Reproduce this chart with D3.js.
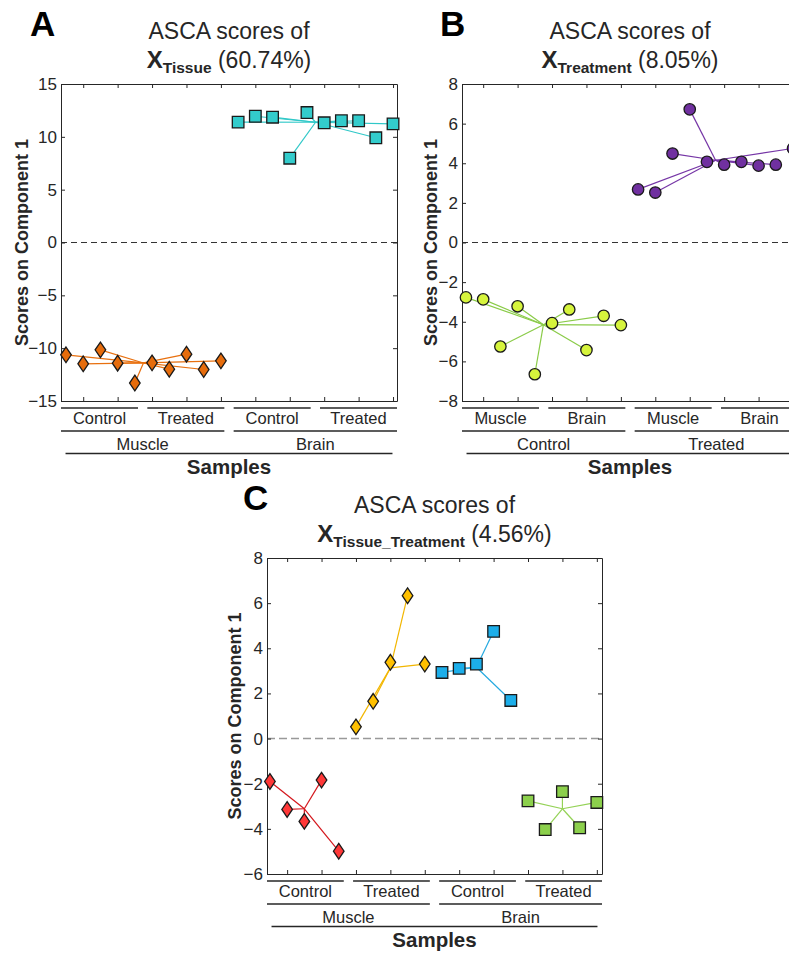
<!DOCTYPE html>
<html>
<head>
<meta charset="utf-8">
<script src="https://cdnjs.cloudflare.com/ajax/libs/d3/7.8.5/d3.min.js"></script>
<style>
  body { margin: 0; background: #fff; }
  svg { font-family: 'Liberation Sans', Arial, Helvetica, sans-serif; }
  text { fill: #262626; }
</style>
</head>
<body>
<svg id="chart" width="789" height="954"></svg>
<script>
// samples 1..20 on the x axis
let samples = d3.range(1, 21)
let xTicks = [2, 4, 6, 8, 10, 12, 14, 16, 18, 20]

// A: tissue effect
let tissueScores = [-10.63, -11.48, -10.16, -11.42, -13.30, -11.39, -11.99, -10.57, -12.02, -11.20,
  11.39, 11.95, 11.86, 7.98, 12.30, 11.33, 11.52, 11.52, 9.91, 11.23]
let tissueSplit = [10, 10]
let tissueCenters = [-11.40, 11.38]
let tissueTicks = [-15, -10, -5, 0, 5, 10, 15]
let tissueRow1 = ['Control', 'Treated', 'Control', 'Treated']
let tissueRow2 = ['Muscle', 'Brain']

// B: treatment effect
let treatmentScores = [-2.77, -2.87, -5.25, -3.22, -6.65, -4.07, -3.38, -5.43, -3.70, -4.17,
  2.68, 2.52, 4.49, 6.72, 4.07, 3.93, 4.07, 3.88, 3.93, 4.75]
let treatmentSplit = [10, 10]
let treatmentCenters = [-4.15, 4.15]
let treatmentTicks = [-8, -6, -4, -2, 0, 2, 4, 6, 8]
let treatmentRow1 = ['Muscle', 'Brain', 'Muscle', 'Brain']
let treatmentRow2 = ['Control', 'Treated']

// C: interaction
let interactionScores = [-1.90, -3.14, -3.67, -1.84, -4.99, 0.52, 1.65, 3.38, 6.33, 3.30,
  2.93, 3.11, 3.30, 4.75, 1.69, -2.76, -4.03, -2.35, -3.95, -2.83]
let interactionSplit = [5, 5, 5, 5]
let interactionCenters = [-3.11, 3.13, 3.16, -3.11]
let interactionTicks = [-6, -4, -2, 0, 2, 4, 6, 8]
let interactionRow1 = ['Control', 'Treated', 'Control', 'Treated']
let interactionRow2 = ['Muscle', 'Brain']

let svg = d3.select('#chart')

let panels = [
  {
    letter: 'A', letterX: 30, left: 61, top: 84, width: 336, height: 317, ylabelDx: -32.7,
    xDomain: [0.71, 20.23], scores: tissueScores, split: tissueSplit, centers: tissueCenters,
    ticks: tissueTicks, row1: tissueRow1, row2: tissueRow2, sub: 'Tissue', pct: '(60.74%)',
    marks: [
      { shape: 'diamond', fill: '#e66c0c', line: '#e8700f' },
      { shape: 'square', fill: '#33cccc', line: '#30c8c8' }
    ],
    zero: { stroke: '#333', width: 1, dash: '6,4' }
  },
  {
    letter: 'B', letterX: 440, left: 462, top: 84, width: 336, height: 317, ylabelDx: -25.3,
    xDomain: [0.77, 20.29], scores: treatmentScores, split: treatmentSplit, centers: treatmentCenters,
    ticks: treatmentTicks, row1: treatmentRow1, row2: treatmentRow2, sub: 'Treatment', pct: '(8.05%)',
    marks: [
      { shape: 'circle', fill: '#d6f43c', line: '#8acb48' },
      { shape: 'circle', fill: '#7030a0', line: '#7636a6' }
    ],
    zero: { stroke: '#333', width: 1, dash: '6,4' }
  },
  {
    letter: 'C', letterX: 243, left: 267, top: 558, width: 335, height: 316, ylabelDx: -26.3,
    xDomain: [0.83, 20.30], scores: interactionScores, split: interactionSplit, centers: interactionCenters,
    ticks: interactionTicks, row1: interactionRow1, row2: interactionRow2, sub: 'Tissue_Treatment', pct: '(4.56%)',
    marks: [
      { shape: 'diamond', fill: '#ff3838', line: '#d4161c' },
      { shape: 'diamond', fill: '#ffc000', line: '#f2b600' },
      { shape: 'square', fill: '#1caeea', line: '#25a9e0' },
      { shape: 'square', fill: '#8cd04c', line: '#94d256' }
    ],
    zero: { stroke: '#999', width: 1.5, dash: '8,4' }
  }
]

function drawPanel (p) {
  let g = svg.append('g').attr('transform', 'translate(' + p.left + ',' + p.top + ')')

  let x = d3.scaleLinear().domain(p.xDomain).range([0, p.width])
  let y = d3.scaleLinear().domain(d3.extent(p.ticks)).range([p.height, 0])

  // group of every sample
  let groupOf = []
  p.split.forEach(function (n, gi) { for (let k = 0; k < n; k++) groupOf.push(gi) })
  let pts = samples.map(function (s, i) { return { s: s, v: p.scores[i], g: groupOf[i] } })
  let centers = p.split.map(function (n, gi) {
    return { s: d3.mean(pts.filter(function (d) { return d.g === gi }), function (d) { return d.s }), v: p.centers[gi] }
  })

  // zero line
  g.append('line')
    .attr('x1', 0).attr('x2', p.width)
    .attr('y1', y(0)).attr('y2', y(0))
    .attr('stroke', p.zero.stroke)
    .attr('stroke-width', p.zero.width)
    .attr('stroke-dasharray', p.zero.dash)

  // axes (box with inward ticks)
  function styleAxis (sel) {
    sel.attr('font-family', null).attr('font-size', 17).style('color', '#262626')
    sel.selectAll('line, path').attr('stroke-width', 1)
  }
  g.append('g')
    .call(d3.axisLeft(y).tickValues(p.ticks).tickSize(-4).tickSizeOuter(0).tickPadding(4))
    .call(styleAxis)
  g.append('g')
    .attr('transform', 'translate(' + p.width + ',0)')
    .call(d3.axisRight(y).tickValues(p.ticks).tickSize(-4).tickSizeOuter(0).tickFormat(''))
    .call(styleAxis)
  g.append('g')
    .attr('transform', 'translate(0,' + p.height + ')')
    .call(d3.axisBottom(x).tickValues(xTicks).tickSize(-4).tickSizeOuter(0).tickFormat(''))
    .call(styleAxis)
  g.append('g')
    .call(d3.axisTop(x).tickValues(xTicks).tickSize(-4).tickSizeOuter(0).tickFormat(''))
    .call(styleAxis)

  // spokes to group centre
  g.selectAll('.spoke')
    .data(pts)
    .enter()
    .append('line')
    .attr('class', 'spoke')
    .attr('x1', function (d) { return x(centers[d.g].s) })
    .attr('y1', function (d) { return y(centers[d.g].v) })
    .attr('x2', function (d) { return x(d.s) })
    .attr('y2', function (d) { return y(d.v) })
    .attr('stroke', function (d) { return p.marks[d.g].line })
    .attr('stroke-width', 1.2)

  // markers
  let diamond = 'M0,-7.8L5.3,0L0,7.8L-5.3,0Z'
  let square = 'M-5.8,-5.8H5.8V5.8H-5.8Z'
  g.selectAll('.mark')
    .data(pts)
    .enter()
    .append('path')
    .attr('class', 'mark')
    .attr('transform', function (d) { return 'translate(' + x(d.s) + ',' + y(d.v) + ')' })
    .attr('d', function (d) {
      let shape = p.marks[d.g].shape
      if (shape === 'diamond') return diamond
      if (shape === 'square') return square
      return d3.symbol(d3.symbolCircle, Math.PI * 5.7 * 5.7)()
    })
    .attr('fill', function (d) { return p.marks[d.g].fill })
    .attr('stroke', '#1a1a1a')
    .attr('stroke-width', 1.3)

  // group brackets under the axis
  function bracketRow (labels, yLine, yText) {
    let gap = 9.3
    let band = d3.scaleBand()
      .domain(d3.range(labels.length))
      .range([0, p.width])
      .paddingInner(gap * labels.length / (p.width + gap))
      .paddingOuter(0)
    labels.forEach(function (lab, i) {
      g.append('line')
        .attr('x1', band(i)).attr('x2', band(i) + band.bandwidth())
        .attr('y1', yLine).attr('y2', yLine)
        .attr('stroke', '#262626').attr('stroke-width', 1.3)
      if (yText != null) {
        g.append('text')
          .attr('x', band(i) + band.bandwidth() / 2)
          .attr('y', yText)
          .attr('text-anchor', 'middle')
          .attr('font-size', 16.5)
          .text(lab)
      }
    })
  }
  let by1 = p.height + 7
  let by2 = by1 + 23
  let by3 = by2 + 22.5
  bracketRow(p.row1, by1, by1 + 16)
  bracketRow(p.row2, by2, by2 + 19)
  bracketRow(['Samples'], by3, null)

  g.append('text')
    .attr('x', p.width / 2)
    .attr('y', by3 + 20)
    .attr('text-anchor', 'middle')
    .attr('font-size', 20.5)
    .attr('font-weight', 'bold')
    .text('Samples')

  // y label
  g.append('text')
    .attr('transform', 'translate(' + p.ylabelDx + ',' + (p.height / 2) + ') rotate(-90)')
    .attr('text-anchor', 'middle')
    .attr('font-size', 18)
    .attr('font-weight', 'bold')
    .text('Scores on Component 1')

  // title
  g.append('text')
    .attr('x', p.width / 2)
    .attr('y', -44.7)
    .attr('text-anchor', 'middle')
    .attr('font-size', 23)
    .text('ASCA scores of')

  let t2 = g.append('text')
    .attr('x', p.width / 2)
    .attr('y', -16)
    .attr('text-anchor', 'middle')
    .attr('font-size', 23)
    .style('white-space', 'pre')
  t2.append('tspan').attr('font-weight', 'bold').attr('font-size', 24).text('X')
  t2.append('tspan').attr('font-weight', 'bold').attr('font-size', 15.5).attr('dy', 4.8).text(p.sub)
  t2.append('tspan').attr('dy', -4.8).text(' ' + p.pct)

  // panel letter
  svg.append('text')
    .attr('x', p.letterX)
    .attr('y', p.top - 48)
    .attr('font-size', 35)
    .attr('font-weight', 'bold')
    .style('fill', '#000')
    .text(p.letter)
}

panels.forEach(drawPanel)
</script>
</body>
</html>
